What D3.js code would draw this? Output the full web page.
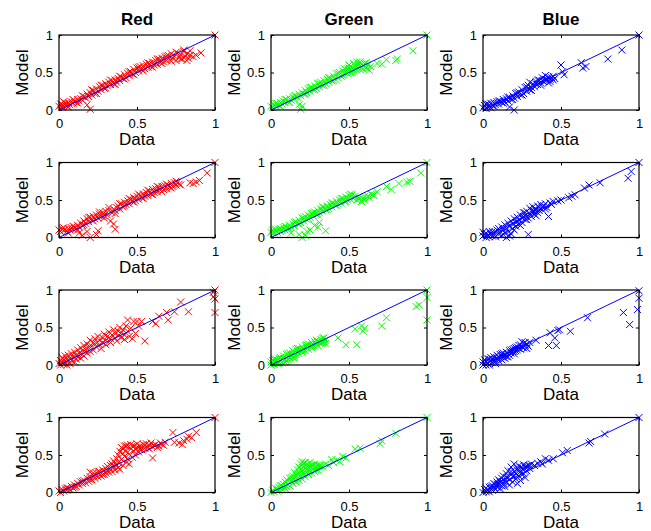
<!DOCTYPE html>
<html>
<head>
<meta charset="utf-8">
<script src="https://d3js.org/d3.v7.min.js"></script>
<style>
  body { margin: 0; background: #fff; }
  svg { display: block; }
  text { font-family: "Liberation Sans", Arial, Helvetica, sans-serif; fill: #000; }
</style>
</head>
<body>
<script>
  // Scatter data: each entry is [data, model]
  const redRow1 = [
    [0.00,0.05],[0.01,0.08],[0.02,0.04],[0.02,0.07],[0.03,0.06],[0.04,0.09],[0.05,0.05],[0.05,0.08],[0.06,0.10],[0.07,0.07],
    [0.08,0.11],[0.09,0.09],[0.10,0.12],[0.11,0.10],[0.12,0.14],[0.13,0.12],[0.14,0.15],[0.15,0.13],[0.16,0.18],[0.17,0.16],
    [0.18,0.21],[0.18,0.07],[0.19,0.18],[0.20,0.23],[0.20,0.01],[0.21,0.20],[0.22,0.26],[0.23,0.22],[0.24,0.28],[0.25,0.25],
    [0.26,0.31],[0.27,0.27],[0.28,0.33],[0.29,0.29],[0.30,0.35],[0.31,0.32],[0.32,0.37],[0.33,0.34],[0.34,0.39],[0.35,0.35],
    [0.36,0.40],[0.37,0.37],[0.38,0.42],[0.39,0.39],[0.40,0.44],[0.41,0.42],[0.42,0.47],[0.43,0.43],[0.44,0.49],[0.45,0.46],
    [0.46,0.51],[0.47,0.48],[0.48,0.54],[0.49,0.50],[0.50,0.56],[0.51,0.52],[0.52,0.58],[0.53,0.54],[0.54,0.59],[0.55,0.55],
    [0.56,0.61],[0.57,0.57],[0.58,0.62],[0.59,0.58],[0.60,0.64],[0.61,0.60],[0.62,0.66],[0.63,0.61],[0.64,0.68],[0.65,0.63],
    [0.66,0.69],[0.67,0.64],[0.68,0.71],[0.69,0.66],[0.70,0.73],[0.71,0.67],[0.72,0.75],[0.73,0.69],[0.74,0.72],[0.75,0.66],
    [0.76,0.76],[0.77,0.70],[0.78,0.74],[0.79,0.68],[0.80,0.78],[0.81,0.71],[0.82,0.75],[0.83,0.69],[0.84,0.73],[0.86,0.71],
    [0.88,0.73],[0.91,0.76],[1.00,1.00],
    [0.03,0.11],[0.06,0.04],[0.09,0.14],[0.12,0.09],[0.15,0.19],[0.21,0.27],[0.24,0.22],[0.27,0.33],[0.30,0.29],[0.33,0.40],
    [0.36,0.34],[0.39,0.45],[0.42,0.41],[0.45,0.51],[0.48,0.47],[0.51,0.57],[0.54,0.52],[0.57,0.63],[0.60,0.57],[0.63,0.68],
    [0.66,0.62],[0.69,0.72],[0.72,0.65],[0.75,0.77],[0.78,0.68],[0.80,0.80],[0.82,0.66],[0.84,0.79]
  ];
  const greenRow1 = [
    [0.00,0.05],[0.01,0.03],[0.02,0.07],[0.03,0.05],[0.04,0.09],[0.05,0.06],[0.06,0.10],[0.07,0.08],[0.08,0.12],[0.09,0.10],
    [0.10,0.14],[0.11,0.11],[0.12,0.15],[0.13,0.13],[0.14,0.17],[0.15,0.15],[0.16,0.19],[0.17,0.17],[0.18,0.21],[0.18,0.07],
    [0.19,0.19],[0.19,0.01],[0.20,0.23],[0.20,0.05],[0.21,0.21],[0.22,0.26],[0.23,0.23],[0.24,0.28],[0.25,0.25],[0.26,0.30],
    [0.27,0.27],[0.28,0.32],[0.29,0.29],[0.30,0.35],[0.31,0.31],[0.32,0.37],[0.33,0.33],[0.34,0.39],[0.35,0.35],[0.36,0.41],
    [0.37,0.37],[0.38,0.43],[0.39,0.39],[0.40,0.45],[0.41,0.41],[0.42,0.48],[0.43,0.43],[0.44,0.50],[0.45,0.45],[0.46,0.52],
    [0.47,0.47],[0.48,0.54],[0.49,0.49],[0.50,0.56],[0.51,0.50],[0.52,0.57],[0.53,0.52],[0.54,0.59],[0.55,0.53],[0.55,0.64],
    [0.56,0.60],[0.57,0.54],[0.58,0.61],[0.59,0.55],[0.60,0.62],[0.61,0.56],[0.62,0.60],[0.63,0.53],[0.64,0.58],[0.68,0.62],
    [0.71,0.61],[0.74,0.67],[0.80,0.66],[0.81,0.68],[0.91,0.79],[1.00,1.00],
    [0.03,0.09],[0.06,0.05],[0.09,0.14],[0.12,0.10],[0.15,0.19],[0.22,0.21],[0.25,0.30],[0.28,0.27],[0.31,0.36],[0.34,0.33],
    [0.37,0.43],[0.40,0.39],[0.43,0.49],[0.46,0.46],[0.49,0.55],[0.52,0.50],[0.55,0.58],[0.58,0.56],[0.61,0.63],[0.62,0.55],
    [0.50,0.60],[0.53,0.62],[0.47,0.55],[0.57,0.64]
  ];
  const blueRow1 = [
    [0.00,0.03],[0.01,0.06],[0.02,0.02],[0.02,0.08],[0.03,0.04],[0.04,0.07],[0.05,0.03],[0.05,0.09],[0.06,0.06],[0.07,0.10],
    [0.08,0.07],[0.09,0.11],[0.10,0.08],[0.11,0.12],[0.12,0.10],[0.13,0.14],[0.14,0.11],[0.15,0.15],[0.16,0.12],[0.17,0.17],
    [0.17,0.04],[0.18,0.14],[0.19,0.19],[0.20,0.00],[0.20,0.16],[0.21,0.22],[0.22,0.18],[0.23,0.24],[0.24,0.20],[0.25,0.27],
    [0.26,0.22],[0.27,0.30],[0.28,0.25],[0.29,0.33],[0.30,0.27],[0.30,0.37],[0.31,0.30],[0.32,0.35],[0.33,0.31],[0.34,0.38],
    [0.35,0.34],[0.36,0.40],[0.37,0.36],[0.38,0.43],[0.39,0.38],[0.40,0.46],[0.41,0.40],[0.42,0.44],[0.43,0.41],[0.44,0.43],
    [0.45,0.40],[0.46,0.42],[0.50,0.60],[0.51,0.51],[0.52,0.47],[0.63,0.63],[0.64,0.56],[0.66,0.58],[0.80,0.68],[0.89,0.80],
    [1.00,1.00],
    [0.03,0.08],[0.07,0.05],[0.10,0.12],[0.13,0.09],[0.16,0.17],[0.19,0.14],[0.22,0.23],[0.25,0.20],[0.28,0.31],[0.31,0.26],
    [0.34,0.35],[0.37,0.33],[0.40,0.41],[0.43,0.38],[0.45,0.45],[0.38,0.39],[0.42,0.36],[0.35,0.40]
  ];

  const redRow2 = [
    [0.00,0.10],[0.01,0.08],[0.02,0.12],[0.03,0.09],[0.04,0.11],[0.05,0.08],[0.06,0.12],[0.07,0.10],[0.08,0.13],[0.09,0.11],
    [0.10,0.14],[0.11,0.12],[0.12,0.16],[0.13,0.14],[0.13,0.06],[0.14,0.19],[0.15,0.16],[0.15,0.03],[0.16,0.22],[0.17,0.19],
    [0.18,0.25],[0.18,0.08],[0.19,0.21],[0.20,0.27],[0.20,0.00],[0.21,0.23],[0.22,0.28],[0.23,0.25],[0.24,0.30],[0.24,0.04],
    [0.25,0.26],[0.25,0.09],[0.26,0.31],[0.27,0.28],[0.28,0.33],[0.29,0.29],[0.30,0.35],[0.31,0.30],[0.32,0.36],[0.33,0.22],
    [0.34,0.33],[0.35,0.38],[0.35,0.18],[0.36,0.11],[0.36,0.36],[0.37,0.40],[0.38,0.42],[0.39,0.38],[0.40,0.45],[0.41,0.41],
    [0.42,0.47],[0.43,0.44],[0.44,0.49],[0.45,0.45],[0.46,0.51],[0.47,0.48],[0.48,0.53],[0.49,0.49],[0.50,0.55],[0.51,0.51],
    [0.52,0.56],[0.53,0.53],[0.54,0.58],[0.55,0.55],[0.56,0.60],[0.57,0.56],[0.58,0.62],[0.59,0.58],[0.60,0.64],[0.61,0.60],
    [0.62,0.65],[0.63,0.61],[0.64,0.67],[0.65,0.63],[0.66,0.68],[0.67,0.64],[0.68,0.69],[0.69,0.65],[0.70,0.70],[0.71,0.67],
    [0.72,0.72],[0.73,0.68],[0.74,0.73],[0.75,0.70],[0.76,0.74],[0.77,0.71],[0.84,0.73],[0.86,0.72],[0.88,0.74],[0.90,0.76],
    [0.95,0.86],[1.00,1.00],
    [0.03,0.13],[0.06,0.06],[0.09,0.15],[0.12,0.10],[0.16,0.17],[0.19,0.27],[0.22,0.22],[0.26,0.34],[0.29,0.26],[0.32,0.40],
    [0.36,0.32],[0.39,0.45],[0.42,0.42],[0.45,0.52],[0.48,0.47],[0.51,0.58],[0.54,0.52],[0.57,0.63],[0.60,0.57],[0.63,0.68],
    [0.66,0.61],[0.69,0.71],[0.72,0.66],[0.75,0.75],[0.78,0.70]
  ];
  const greenRow2 = [
    [0.00,0.07],[0.01,0.10],[0.02,0.06],[0.03,0.09],[0.04,0.07],[0.05,0.11],[0.06,0.08],[0.07,0.10],[0.08,0.13],[0.09,0.10],
    [0.10,0.14],[0.11,0.12],[0.12,0.16],[0.13,0.06],[0.13,0.14],[0.14,0.18],[0.15,0.15],[0.16,0.21],[0.17,0.18],[0.18,0.04],
    [0.18,0.23],[0.19,0.20],[0.20,0.00],[0.20,0.26],[0.21,0.22],[0.22,0.03],[0.22,0.28],[0.23,0.08],[0.23,0.24],[0.24,0.30],
    [0.25,0.10],[0.25,0.27],[0.26,0.32],[0.27,0.29],[0.28,0.16],[0.28,0.34],[0.29,0.31],[0.30,0.14],[0.30,0.36],[0.31,0.20],
    [0.31,0.33],[0.32,0.38],[0.33,0.35],[0.34,0.40],[0.35,0.09],[0.35,0.37],[0.36,0.42],[0.37,0.39],[0.38,0.44],[0.39,0.41],
    [0.40,0.46],[0.41,0.43],[0.42,0.48],[0.43,0.45],[0.44,0.50],[0.45,0.46],[0.46,0.52],[0.47,0.48],[0.48,0.54],[0.49,0.50],
    [0.50,0.56],[0.51,0.51],[0.52,0.57],[0.53,0.52],[0.55,0.50],[0.56,0.54],[0.58,0.48],[0.59,0.52],[0.60,0.50],[0.62,0.55],
    [0.63,0.53],[0.65,0.57],[0.68,0.61],[0.74,0.68],[0.77,0.64],[0.82,0.72],[0.87,0.74],[0.89,0.75],[0.96,0.86],[1.00,1.00],
    [0.03,0.11],[0.06,0.12],[0.09,0.15],[0.12,0.12],[0.15,0.20],[0.18,0.18],[0.21,0.26],[0.24,0.25],[0.27,0.33],[0.30,0.31],
    [0.33,0.41],[0.36,0.37],[0.39,0.46],[0.42,0.43],[0.45,0.52],[0.48,0.48],[0.51,0.58],[0.54,0.55],[0.57,0.52],[0.60,0.55],
    [0.64,0.58],[0.66,0.56]
  ];
  const blueRow2 = [
    [0.00,0.02],[0.00,0.07],[0.01,0.04],[0.02,0.00],[0.02,0.06],[0.03,0.03],[0.04,0.08],[0.04,0.01],[0.05,0.05],[0.06,0.02],
    [0.06,0.08],[0.07,0.04],[0.08,0.07],[0.08,0.01],[0.09,0.10],[0.10,0.05],[0.10,0.12],[0.11,0.08],[0.12,0.03],[0.12,0.14],
    [0.13,0.10],[0.14,0.06],[0.14,0.17],[0.15,0.00],[0.15,0.12],[0.16,0.19],[0.16,0.08],[0.17,0.02],[0.17,0.15],[0.18,0.05],
    [0.18,0.22],[0.19,0.12],[0.19,0.18],[0.20,0.25],[0.20,0.10],[0.21,0.20],[0.21,0.15],[0.22,0.27],[0.23,0.18],[0.23,0.23],
    [0.24,0.30],[0.25,0.20],[0.25,0.26],[0.26,0.33],[0.27,0.24],[0.27,0.29],[0.28,0.35],[0.29,0.04],[0.29,0.26],[0.30,0.32],
    [0.30,0.39],[0.31,0.28],[0.32,0.35],[0.32,0.41],[0.33,0.31],[0.34,0.38],[0.35,0.42],[0.35,0.33],[0.36,0.40],[0.37,0.44],
    [0.38,0.37],[0.39,0.42],[0.40,0.45],[0.41,0.40],[0.42,0.28],[0.43,0.46],[0.44,0.44],[0.45,0.48],[0.48,0.49],[0.50,0.50],
    [0.55,0.53],[0.57,0.55],[0.59,0.57],[0.65,0.66],[0.68,0.70],[0.75,0.73],[0.93,0.79],[0.95,0.88],[1.00,1.00],
    [0.22,0.22],[0.26,0.28],[0.28,0.24],[0.31,0.36],[0.33,0.35],[0.36,0.36],[0.38,0.41],[0.40,0.38],[0.34,0.29],[0.24,0.16],
    [0.27,0.33]
  ];

  const redRow3 = [
    [0.00,0.02],[0.01,0.06],[0.01,0.00],[0.02,0.04],[0.02,0.10],[0.03,0.01],[0.03,0.07],[0.04,0.12],[0.04,0.03],[0.05,0.08],
    [0.05,0.00],[0.06,0.05],[0.06,0.13],[0.07,0.09],[0.07,0.02],[0.08,0.15],[0.08,0.06],[0.09,0.11],[0.10,0.04],[0.10,0.17],
    [0.11,0.13],[0.11,0.08],[0.12,0.20],[0.12,0.11],[0.13,0.16],[0.14,0.09],[0.14,0.23],[0.15,0.14],[0.15,0.19],[0.16,0.26],
    [0.16,0.12],[0.17,0.21],[0.18,0.16],[0.18,0.28],[0.19,0.23],[0.20,0.18],[0.20,0.33],[0.21,0.25],[0.22,0.20],[0.22,0.30],
    [0.23,0.35],[0.24,0.24],[0.24,0.29],[0.25,0.38],[0.26,0.27],[0.26,0.33],[0.27,0.22],[0.28,0.36],[0.28,0.30],[0.29,0.41],
    [0.30,0.33],[0.30,0.27],[0.31,0.38],[0.32,0.44],[0.33,0.35],[0.33,0.30],[0.34,0.40],[0.35,0.47],[0.36,0.36],[0.36,0.42],
    [0.37,0.32],[0.38,0.45],[0.38,0.39],[0.39,0.50],[0.40,0.37],[0.40,0.43],[0.41,0.47],[0.42,0.34],[0.42,0.40],[0.43,0.52],
    [0.44,0.60],[0.44,0.45],[0.45,0.38],[0.46,0.49],[0.47,0.35],[0.48,0.58],[0.49,0.42],[0.50,0.58],[0.51,0.52],[0.53,0.58],
    [0.55,0.32],[0.60,0.58],[0.62,0.55],[0.64,0.65],[0.69,0.70],[0.70,0.60],[0.74,0.71],[0.78,0.84],[0.83,0.71],[0.99,0.97],
    [1.00,1.00],[0.99,0.91],[1.00,0.88],[1.00,0.70]
  ];
  const greenRow3 = [
    [0.00,0.00],[0.00,0.04],[0.01,0.02],[0.01,0.06],[0.02,0.01],[0.02,0.05],[0.03,0.03],[0.03,0.08],[0.04,0.02],[0.04,0.06],
    [0.05,0.04],[0.05,0.09],[0.06,0.05],[0.06,0.10],[0.07,0.03],[0.07,0.08],[0.08,0.06],[0.08,0.12],[0.09,0.08],[0.09,0.04],
    [0.10,0.10],[0.10,0.14],[0.11,0.07],[0.11,0.12],[0.12,0.10],[0.12,0.16],[0.13,0.13],[0.13,0.08],[0.14,0.15],[0.14,0.19],
    [0.15,0.12],[0.15,0.17],[0.16,0.14],[0.16,0.21],[0.17,0.18],[0.18,0.15],[0.18,0.22],[0.19,0.19],[0.20,0.17],[0.20,0.24],
    [0.21,0.21],[0.22,0.19],[0.22,0.26],[0.23,0.23],[0.24,0.21],[0.24,0.28],[0.25,0.25],[0.26,0.23],[0.26,0.30],[0.27,0.27],
    [0.28,0.25],[0.28,0.31],[0.29,0.28],[0.30,0.32],[0.30,0.26],[0.31,0.30],[0.32,0.34],[0.33,0.36],[0.34,0.31],[0.35,0.29],
    [0.35,0.33],[0.43,0.36],[0.48,0.27],[0.54,0.48],[0.55,0.27],[0.58,0.52],[0.59,0.45],[0.60,0.49],[0.71,0.52],[0.74,0.63],
    [0.93,0.78],[0.95,0.80],[1.00,1.00],[1.00,0.90],[1.00,0.60],
    [0.02,0.08],[0.05,0.02],[0.08,0.09],[0.11,0.15],[0.14,0.10],[0.17,0.22],[0.20,0.20],[0.23,0.27],[0.26,0.26],[0.29,0.33],
    [0.32,0.29],[0.34,0.36],[0.33,0.30],[0.10,0.05],[0.15,0.09]
  ];
  const blueRow3 = [
    [0.00,0.00],[0.00,0.04],[0.01,0.02],[0.01,0.07],[0.02,0.00],[0.02,0.05],[0.03,0.02],[0.03,0.08],[0.04,0.04],[0.04,0.00],
    [0.05,0.06],[0.05,0.10],[0.06,0.03],[0.06,0.08],[0.07,0.05],[0.07,0.11],[0.08,0.07],[0.08,0.02],[0.09,0.09],[0.09,0.13],
    [0.10,0.06],[0.10,0.11],[0.11,0.09],[0.11,0.14],[0.12,0.12],[0.12,0.07],[0.13,0.10],[0.13,0.16],[0.14,0.13],[0.15,0.11],
    [0.15,0.17],[0.16,0.15],[0.17,0.13],[0.17,0.19],[0.18,0.16],[0.19,0.21],[0.19,0.18],[0.20,0.15],[0.20,0.22],[0.21,0.19],
    [0.22,0.24],[0.22,0.20],[0.23,0.22],[0.24,0.27],[0.24,0.21],[0.25,0.24],[0.25,0.31],[0.26,0.23],[0.26,0.29],[0.27,0.26],
    [0.28,0.22],[0.28,0.28],[0.29,0.25],[0.30,0.30],[0.34,0.33],[0.42,0.26],[0.43,0.43],[0.46,0.36],[0.47,0.26],[0.48,0.46],
    [0.49,0.47],[0.56,0.45],[0.67,0.63],[0.90,0.70],[0.94,0.54],[0.99,0.74],[1.00,0.89],[1.00,0.99],
    [0.04,0.08],[0.08,0.05],[0.12,0.15],[0.16,0.11],[0.20,0.18],[0.23,0.26],[0.27,0.30],[0.14,0.09],[0.18,0.20],[0.21,0.23]
  ];

  const redRow4 = [
    [0.00,0.02],[0.01,0.00],[0.02,0.04],[0.03,0.02],[0.04,0.05],[0.05,0.03],[0.06,0.06],[0.07,0.04],[0.08,0.08],[0.09,0.06],
    [0.10,0.10],[0.11,0.08],[0.12,0.12],[0.13,0.10],[0.14,0.14],[0.15,0.12],[0.16,0.16],[0.17,0.13],[0.18,0.19],[0.19,0.15],
    [0.20,0.21],[0.20,0.27],[0.21,0.17],[0.22,0.23],[0.23,0.19],[0.24,0.26],[0.25,0.21],[0.26,0.28],[0.27,0.22],[0.28,0.30],
    [0.29,0.24],[0.30,0.32],[0.30,0.26],[0.31,0.35],[0.32,0.27],[0.33,0.31],[0.34,0.38],[0.34,0.28],[0.35,0.34],[0.35,0.42],
    [0.36,0.30],[0.37,0.45],[0.37,0.36],[0.38,0.40],[0.38,0.50],[0.39,0.31],[0.39,0.55],[0.40,0.44],[0.40,0.60],[0.41,0.36],
    [0.41,0.52],[0.42,0.48],[0.42,0.62],[0.43,0.40],[0.43,0.56],[0.44,0.45],[0.44,0.63],[0.45,0.51],[0.45,0.38],[0.46,0.58],
    [0.46,0.64],[0.47,0.47],[0.48,0.55],[0.48,0.62],[0.49,0.50],[0.50,0.60],[0.50,0.65],[0.51,0.54],[0.52,0.62],[0.53,0.57],
    [0.54,0.64],[0.55,0.59],[0.56,0.65],[0.57,0.60],[0.58,0.63],[0.59,0.66],[0.60,0.46],[0.60,0.61],[0.62,0.64],[0.63,0.60],
    [0.65,0.66],[0.67,0.63],[0.68,0.67],[0.73,0.80],[0.74,0.67],[0.77,0.66],[0.79,0.64],[0.80,0.69],[0.82,0.71],[0.83,0.75],
    [0.85,0.73],[0.88,0.80],[1.00,1.00],
    [0.05,0.06],[0.10,0.07],[0.15,0.15],[0.20,0.17],[0.22,0.26],[0.25,0.28],[0.28,0.24],[0.31,0.29],[0.33,0.36],[0.36,0.39],
    [0.38,0.33],[0.41,0.58],[0.43,0.62],[0.47,0.62],[0.49,0.58],[0.52,0.58],[0.55,0.63],[0.58,0.58],[0.61,0.63],[0.64,0.62],
    [0.66,0.64]
  ];
  const greenRow4 = [
    [0.00,0.00],[0.01,0.03],[0.02,0.01],[0.03,0.05],[0.04,0.02],[0.05,0.07],[0.05,0.03],[0.06,0.09],[0.07,0.05],[0.08,0.11],
    [0.08,0.06],[0.09,0.14],[0.10,0.08],[0.10,0.17],[0.11,0.11],[0.12,0.19],[0.12,0.09],[0.13,0.15],[0.14,0.22],[0.14,0.12],
    [0.15,0.18],[0.15,0.27],[0.16,0.14],[0.16,0.23],[0.17,0.30],[0.17,0.19],[0.18,0.16],[0.18,0.26],[0.18,0.34],[0.19,0.22],
    [0.19,0.38],[0.20,0.18],[0.20,0.29],[0.20,0.41],[0.21,0.25],[0.21,0.35],[0.22,0.21],[0.22,0.32],[0.22,0.40],[0.23,0.27],
    [0.23,0.37],[0.24,0.24],[0.24,0.33],[0.25,0.29],[0.25,0.40],[0.26,0.26],[0.26,0.36],[0.27,0.31],[0.28,0.38],[0.28,0.28],
    [0.29,0.34],[0.30,0.30],[0.30,0.37],[0.31,0.33],[0.32,0.36],[0.33,0.34],[0.35,0.38],[0.37,0.36],[0.39,0.44],[0.40,0.40],
    [0.42,0.43],[0.44,0.41],[0.46,0.48],[0.48,0.46],[0.54,0.58],[0.57,0.59],[0.70,0.65],[0.71,0.69],[0.80,0.79],[1.00,1.00],
    [0.04,0.05],[0.07,0.09],[0.09,0.06],[0.13,0.20],[0.17,0.25],[0.19,0.30],[0.21,0.39],[0.23,0.31],[0.25,0.35],[0.27,0.37],
    [0.29,0.30],[0.31,0.36]
  ];
  const blueRow4 = [
    [0.00,0.00],[0.01,0.04],[0.02,0.01],[0.02,0.06],[0.03,0.03],[0.04,0.07],[0.04,0.01],[0.05,0.05],[0.06,0.09],[0.06,0.03],
    [0.07,0.07],[0.07,0.12],[0.08,0.04],[0.08,0.10],[0.09,0.14],[0.09,0.07],[0.10,0.11],[0.10,0.17],[0.11,0.05],[0.11,0.14],
    [0.12,0.09],[0.12,0.19],[0.13,0.12],[0.13,0.22],[0.14,0.08],[0.14,0.16],[0.15,0.25],[0.15,0.13],[0.16,0.20],[0.16,0.29],
    [0.17,0.10],[0.17,0.17],[0.18,0.24],[0.18,0.34],[0.19,0.14],[0.19,0.21],[0.20,0.28],[0.20,0.38],[0.21,0.18],[0.21,0.25],
    [0.22,0.32],[0.22,0.12],[0.23,0.22],[0.23,0.36],[0.24,0.28],[0.24,0.16],[0.25,0.33],[0.25,0.24],[0.26,0.30],[0.26,0.37],
    [0.27,0.20],[0.27,0.34],[0.28,0.29],[0.29,0.36],[0.30,0.32],[0.31,0.38],[0.33,0.36],[0.35,0.39],[0.37,0.41],[0.38,0.38],
    [0.40,0.45],[0.42,0.43],[0.45,0.45],[0.51,0.53],[0.54,0.56],[0.68,0.66],[0.69,0.68],[0.78,0.78],[1.00,1.00],
    [0.05,0.08],[0.09,0.11],[0.12,0.15],[0.15,0.20],[0.18,0.28],[0.20,0.22],[0.22,0.30],[0.24,0.33],[0.26,0.25],[0.28,0.35],
    [0.30,0.36]
  ];

  const columnTitles = ["Red", "Green", "Blue"];
  const columnColors = ["#ff0000", "#00ff00", "#0000ff"];
  const tickValues = [0, 0.5, 1];
  const diagonal = [0, 1];
  const rows = [
    [redRow1, greenRow1, blueRow1],
    [redRow2, greenRow2, blueRow2],
    [redRow3, greenRow3, blueRow3],
    [redRow4, greenRow4, blueRow4]
  ];

  // Figure layout (pixel positions of each axes box)
  const width = 651, height = 531;
  const plotW = 156, plotH = 75;
  const colLeft = [59, 271, 483];
  const rowTop = [35, 162.5, 290, 417.5];

  const svg = d3.select("body").append("svg")
    .attr("width", width)
    .attr("height", height);

  const marker = "M-3.5,-3.5L3.5,3.5M-3.5,3.5L3.5,-3.5";
  const fmt = d => String(d);

  rows.forEach((row, r) => {
    row.forEach((pts, c) => {
      const g = svg.append("g")
        .attr("transform", `translate(${colLeft[c]},${rowTop[r]})`);

      const x = d3.scaleLinear().domain([0, 1]).range([0, plotW]);
      const y = d3.scaleLinear().domain([0, 1]).range([plotH, 0]);

      // axes with inward ticks, MATLAB style
      const axes = [
        [d3.axisBottom(x).tickFormat(fmt).tickPadding(9), `translate(0,${plotH})`],
        [d3.axisLeft(y).tickFormat(fmt).tickPadding(6), null],
        [d3.axisTop(x).tickFormat(() => ""), null],
        [d3.axisRight(y).tickFormat(() => ""), `translate(${plotW},0)`]
      ];
      axes.forEach(([ax, tr]) => {
        const a = g.append("g")
          .attr("transform", tr)
          .call(ax.tickValues(tickValues).tickSize(-3).tickSizeOuter(0));
        a.select(".domain").remove();
        a.selectAll("line").attr("stroke", "#000");
        a.selectAll("text")
          .attr("font-size", 13)
          .attr("font-family", "Liberation Sans, Arial, sans-serif")
          .attr("fill", "#000");
      });

      // markers
      g.append("g")
        .selectAll("path")
        .data(pts)
        .enter().append("path")
        .attr("d", marker)
        .attr("transform", d => `translate(${x(d[0])},${y(d[1])})`)
        .attr("fill", "none")
        .attr("stroke", columnColors[c])
        .attr("stroke-width", 1);

      // identity line
      g.append("path")
        .datum(diagonal)
        .attr("d", d3.line().x(d => x(d)).y(d => y(d)))
        .attr("fill", "none")
        .attr("stroke", "#0000ff")
        .attr("stroke-width", 1);

      // box
      g.append("rect")
        .attr("width", plotW)
        .attr("height", plotH)
        .attr("fill", "none")
        .attr("stroke", "#000")
        .attr("stroke-width", 1.2);

      g.append("text")
        .attr("x", plotW / 2)
        .attr("y", plotH + 35)
        .attr("text-anchor", "middle")
        .attr("font-size", 17)
        .text("Data");

      g.append("text")
        .attr("transform", `translate(-31,${plotH / 2}) rotate(-90)`)
        .attr("text-anchor", "middle")
        .attr("font-size", 17)
        .text("Model");

      if (r === 0) {
        g.append("text")
          .attr("x", plotW / 2)
          .attr("y", -10)
          .attr("text-anchor", "middle")
          .attr("font-size", 17)
          .attr("font-weight", "bold")
          .text(columnTitles[c]);
      }
    });
  });
</script>
</body>
</html>
